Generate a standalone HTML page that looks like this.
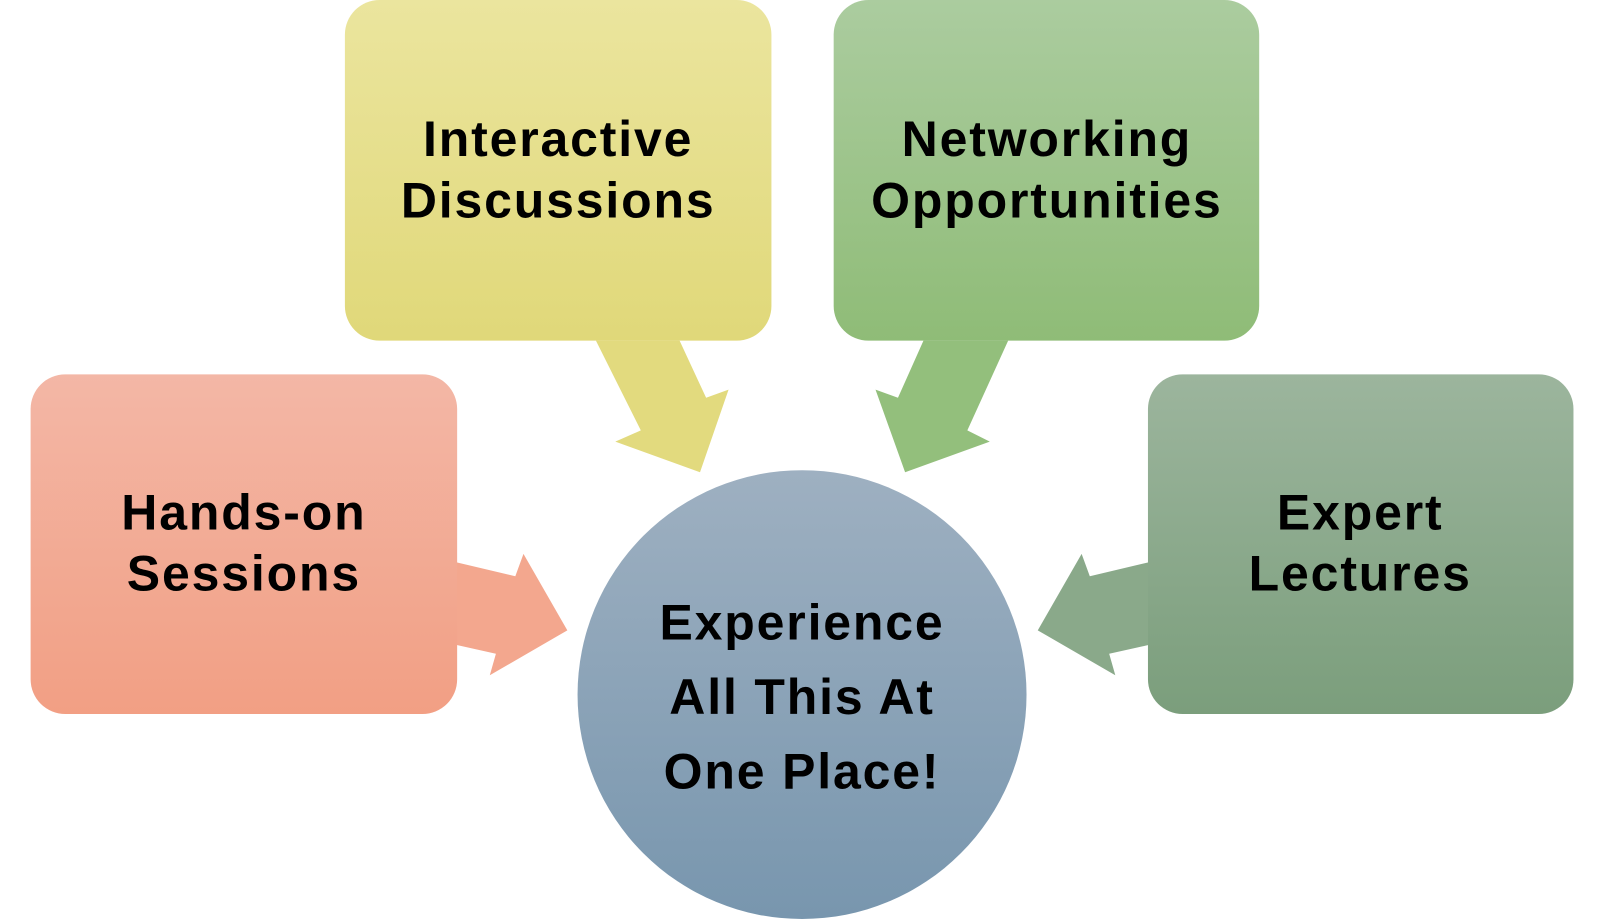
<!DOCTYPE html>
<html><head><meta charset="utf-8"><style>
html,body{margin:0;padding:0;background:#fff;width:1600px;height:919px;overflow:hidden}
svg{display:block}
text{font-family:"Liberation Sans",Arial,sans-serif;font-weight:bold;fill:#000;text-anchor:middle;letter-spacing:1.8px}
</style></head><body>
<svg width="1600" height="919" viewBox="0 0 1568 901" preserveAspectRatio="none">
<defs>
<linearGradient id="gy" x1="0" y1="0" x2="0" y2="1"><stop offset="0" stop-color="#ebe59e"/><stop offset="1" stop-color="#e0d879"/></linearGradient>
<linearGradient id="gg" x1="0" y1="0" x2="0" y2="1"><stop offset="0" stop-color="#abcc9f"/><stop offset="1" stop-color="#8fbc77"/></linearGradient>
<linearGradient id="gs" x1="0" y1="0" x2="0" y2="1"><stop offset="0" stop-color="#f3b7a6"/><stop offset="1" stop-color="#f29f84"/></linearGradient>
<linearGradient id="ge" x1="0" y1="0" x2="0" y2="1"><stop offset="0" stop-color="#9cb59d"/><stop offset="1" stop-color="#7b9e7c"/></linearGradient>
<linearGradient id="gc" x1="0" y1="0" x2="0" y2="1"><stop offset="0" stop-color="#9eb0c1"/><stop offset="1" stop-color="#7896ae"/></linearGradient>
</defs>
<polygon fill="#e2da7e" points="584,334 666,334 692,390 714,382 686,463 603,433 628,422"/>
<polygon fill="#93bf7c" points="905,334 988,334 948,422 970,433 887,463 858,382 880,390"/>
<polygon fill="#f3a78e" points="446,551 505,565 513,543 556,618 480,662 486,641 446,632"/>
<polygon fill="#8aa98a" points="1127,551 1068,565 1060,543 1017,618 1093,662 1087,641 1127,632"/>
<rect x="338" y="0" width="418" height="334" rx="34" fill="url(#gy)"/>
<rect x="817" y="0" width="417" height="334" rx="34" fill="url(#gg)"/>
<rect x="30" y="367" width="418" height="333" rx="34" fill="url(#gs)"/>
<rect x="1125" y="367" width="417" height="333" rx="34" fill="url(#ge)"/>
<circle cx="786" cy="681" r="220" fill="url(#gc)"/>
<g font-size="49">
<text x="547" y="153">Interactive</text>
<text x="547" y="213">Discussions</text>
<text x="1026" y="153">Networking</text>
<text x="1026" y="213">Opportunities</text>
<text x="239" y="519">Hands-on</text>
<text x="239" y="579">Sessions</text>
<text x="1333" y="519">Expert</text>
<text x="1333" y="579">Lectures</text>
<text x="786" y="627">Experience</text>
<text x="786" y="700">All This At</text>
<text x="786" y="773">One Place!</text>
</g>
</svg>
</body></html>
